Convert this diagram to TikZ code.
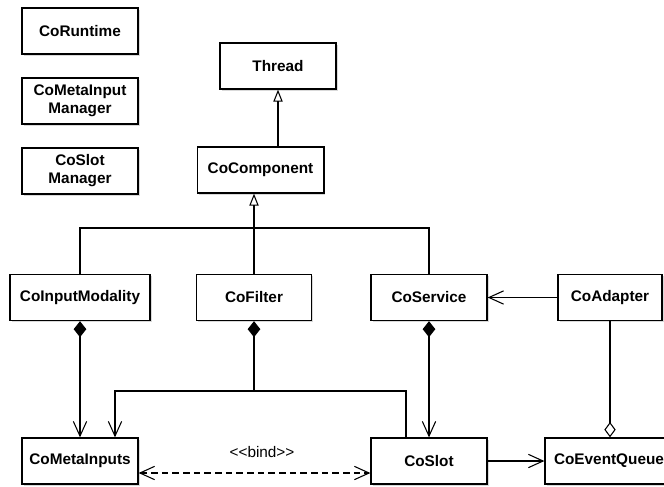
\documentclass[tikz,border=0pt]{standalone}
\usepackage{fontspec}
\setmainfont{Liberation Sans}
\usetikzlibrary{arrows.meta, calc, shadows, positioning}

\begin{document}
\begin{tikzpicture}[x=0.75pt, y=-0.75pt,
		cls/.style={draw, line width=1pt, fill=white, align=center,
			font=\bfseries\fontsize{11.5}{13.5}\selectfont,
			minimum width=87pt, minimum height=34.5pt, inner sep=2pt,
			drop shadow={shadow xshift=1.2pt, shadow yshift=-1.2pt, opacity=0.3}},
		rel/.style={line width=0.8pt},
		inherit/.style={rel, -{Triangle[open, length=9pt, width=7pt]}},
		assoc/.style={rel, -{Straight Barb[length=11pt, width=10pt]}},
		compos/.style={rel, {Diamond[length=12pt, width=9.5pt]}-{Straight Barb[length=11pt, width=10pt]}},
		aggr/.style={rel, -{Diamond[open, length=11.5pt, width=8.5pt]}},
		bindline/.style={rel, dash pattern=on 5pt off 3pt,
			{Straight Barb[length=11pt, width=10pt]}-{Straight Barb[length=11pt, width=10pt]}}]
		\useasboundingbox (0,0) rectangle (664,486);

		% Managers
		\node[cls] (runtime) at (80,31) {CoRuntime};
		\node[cls] (metamgr) at (80,101) {CoMetaInput\\Manager};
		\node[cls] (slotmgr) at (80,171) {CoSlot\\Manager};

		% Classes
		\node[cls] (thread) at (278,66) {Thread};
		\node[cls, minimum width=95pt] (component) at (260.5,170) {CoComponent};
		\node[cls, minimum width=105pt] (inmod) at (80,297.5) {CoInputModality};
		\node[cls, minimum width=86pt] (filter) at (254,297.5) {CoFilter};
		\node[cls] (service) at (429,297.5) {CoService};
		\node[cls, minimum width=78pt] (adapter) at (610,297.5) {CoAdapter};
		\node[cls] (metainputs) at (80,461) {CoMetaInputs};
		\node[cls] (slot) at (429,461) {CoSlot};
		\node[cls, minimum width=96pt] (queue) at (609,461) {CoEventQueue};

		% Inheritance
		\draw[inherit] (thread |- component.north) -- (thread.south);
		\coordinate (tree) at (filter.north |- 0,228);
		\draw[rel] (inmod.north) |- (tree) -| (service.north);
		\draw[inherit] (filter.north) -- (filter.north |- component.south);

		% Associations
		\draw[assoc] (adapter.west) -- (service.east);
		\draw[assoc] (slot.east) -- (queue.west);
		\draw[compos] (inmod.south) -- (metainputs.north);
		\draw[compos] (service.south) -- (slot.north);
		\draw[aggr] (adapter.south) -- (adapter.south |- queue.north);

		% CoFilter parts
		\coordinate (bus) at (filter.south |- 0,391);
		\coordinate (slotin) at ($(slot.north)+(-23,0)$);
		\coordinate (metain) at ($(metainputs.north)+(35,0)$);
		\draw[rel, {Diamond[length=12pt, width=9.5pt]}-] (filter.south) -- (bus);
		\draw[assoc] (slotin) |- (bus) -| (metain);

		% Binding
		\draw[bindline] ($(metainputs.east)+(0,12)$) -- ($(slot.west)+(0,12)$);
		\node[font=\fontsize{11.5}{13.5}\selectfont] (bindlbl) at (262,452) {<\kern0pt<bind>\kern0pt>};
	\end{tikzpicture}
\end{document}
